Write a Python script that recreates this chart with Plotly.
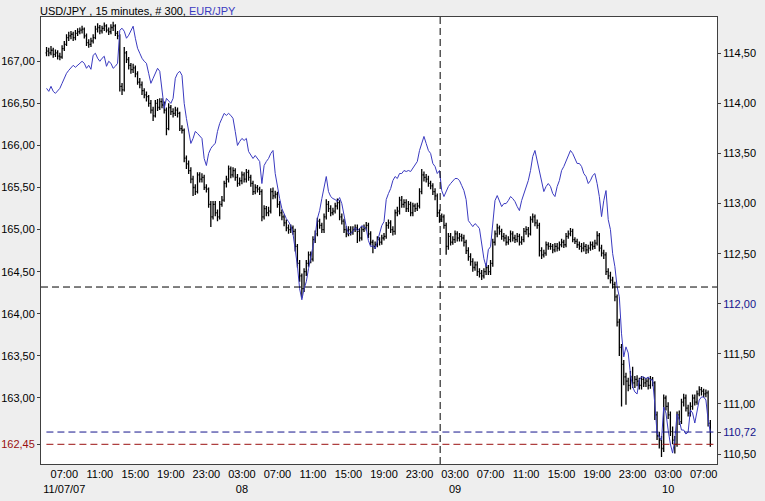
import plotly.graph_objects as go

# ---------------- data ----------------
# 300 bars of 15 minutes, first bar 11/07/07 05:00 (bar index used as x)
bar_open = [
167.10,167.12,167.10,167.13,167.08,167.10,167.06,167.05,167.15,167.20,
167.28,167.30,167.32,167.28,167.33,167.35,167.37,167.38,167.30,167.22,
167.20,167.24,167.28,167.38,167.40,167.36,167.39,167.42,167.37,167.35,
167.40,167.42,167.33,167.30,166.70,166.66,167.10,167.02,166.95,166.90,
166.92,166.85,166.75,166.72,166.65,166.60,166.58,166.50,166.42,166.35,
166.50,166.45,166.52,166.48,166.42,166.20,166.45,166.40,166.38,166.42,
166.38,166.20,166.18,165.85,165.78,165.70,165.60,165.50,165.45,165.65,
165.60,165.62,165.50,165.48,165.30,165.15,165.30,165.20,165.15,165.30,
165.35,165.55,165.60,165.72,165.65,165.70,165.62,165.55,165.58,165.65,
165.60,165.68,165.62,165.55,165.45,165.50,165.48,165.45,165.15,165.25,
165.20,165.22,165.45,165.40,165.42,165.30,165.20,165.15,165.08,165.02,
165.00,165.02,164.98,164.80,164.60,164.45,164.30,164.50,164.60,164.70,
164.65,164.88,164.95,165.10,165.05,165.00,165.15,165.30,165.25,165.20,
165.22,165.28,165.32,165.15,165.10,165.00,164.95,165.00,164.97,165.00,
165.02,164.98,164.90,165.00,165.02,165.05,164.95,164.85,164.80,164.82,
164.88,164.85,164.90,164.92,165.05,165.08,165.00,164.98,165.20,165.22,
165.35,165.30,165.32,165.25,165.30,165.20,165.28,165.25,165.28,165.45,
165.65,165.62,165.60,165.55,165.52,165.45,165.40,165.20,165.12,165.15,
165.05,164.80,164.92,164.85,164.88,164.95,164.90,164.92,164.90,164.85,
164.75,164.68,164.62,164.55,164.58,164.50,164.48,164.45,164.50,164.55,
164.50,164.60,164.85,164.95,165.02,164.98,164.92,164.90,164.85,164.88,
164.95,164.90,164.88,164.92,164.85,164.88,164.98,165.00,164.95,165.12,
165.15,165.08,165.05,164.75,164.70,164.72,164.82,164.80,164.80,164.76,
164.80,164.78,164.82,164.85,164.82,164.92,164.95,164.98,164.88,164.86,
164.82,164.80,164.78,164.80,164.76,164.78,164.82,164.80,164.84,164.93,
164.78,164.72,164.70,164.50,164.45,164.40,164.35,164.20,163.90,163.60,
163.40,163.25,163.20,163.15,163.25,163.18,163.22,163.20,163.15,163.22,
163.18,163.20,163.15,163.22,163.18,162.80,162.55,162.50,162.40,163.00,
162.90,162.80,162.60,162.50,162.45,162.80,162.72,162.95,163.00,162.88,
162.82,162.90,163.00,162.95,163.05,163.10,163.08,163.05,163.06,162.70,
]
bar_high = [
167.17,167.16,167.18,167.16,167.14,167.13,167.10,167.19,167.24,167.32,
167.35,167.36,167.35,167.37,167.39,167.40,167.42,167.40,167.33,167.26,
167.28,167.32,167.42,167.45,167.43,167.42,167.46,167.44,167.40,167.44,
167.47,167.44,167.36,167.32,166.74,167.17,167.12,167.05,166.98,166.97,
166.95,166.88,166.80,166.76,166.68,166.64,166.60,166.54,166.46,166.54,
166.55,166.56,166.56,166.52,166.45,166.50,166.48,166.44,166.46,166.45,
166.40,166.24,166.20,165.88,165.82,165.74,165.64,165.54,165.68,165.68,
165.67,165.65,165.54,165.50,165.34,165.34,165.34,165.24,165.34,165.40,
165.58,165.64,165.76,165.75,165.74,165.73,165.66,165.62,165.69,165.68,
165.72,165.71,165.65,165.58,165.54,165.53,165.51,165.48,165.29,165.28,
165.27,165.49,165.50,165.46,165.45,165.34,165.24,165.18,165.12,165.06,
165.06,165.05,165.01,164.83,164.64,164.48,164.54,164.64,164.74,164.74,
164.92,164.99,165.14,165.13,165.08,165.19,165.36,165.34,165.29,165.26,
165.32,165.37,165.35,165.19,165.13,165.04,165.04,165.04,165.04,165.06,
165.06,165.02,165.04,165.06,165.09,165.08,164.98,164.88,164.86,164.92,
164.91,164.94,164.96,165.09,165.12,165.11,165.04,165.24,165.27,165.39,
165.40,165.36,165.36,165.34,165.33,165.32,165.31,165.32,165.49,165.72,
165.69,165.66,165.64,165.58,165.55,165.49,165.43,165.24,165.19,165.18,
165.08,164.96,164.96,164.92,164.99,164.98,164.96,164.95,164.94,164.88,
164.79,164.72,164.66,164.62,164.62,164.54,164.52,164.54,164.60,164.58,
164.64,164.89,164.99,165.07,165.05,165.01,164.96,164.94,164.92,164.99,
164.98,164.94,164.96,164.95,164.92,165.02,165.04,165.03,165.16,165.19,
165.18,165.12,165.08,164.79,164.76,164.86,164.85,164.84,164.83,164.84,
164.84,164.86,164.89,164.88,164.96,164.99,165.02,165.01,164.91,164.89,
164.86,164.84,164.85,164.83,164.82,164.86,164.86,164.88,164.98,164.96,
164.82,164.76,164.73,164.54,164.50,164.44,164.38,164.23,163.94,163.64,
163.45,163.30,163.24,163.32,163.37,163.26,163.27,163.24,163.26,163.25,
163.24,163.24,163.26,163.25,163.20,162.84,162.60,162.55,163.04,163.03,
162.95,162.84,162.66,162.55,162.84,162.85,162.99,163.05,163.04,162.92,
162.95,163.04,163.04,163.09,163.14,163.13,163.11,163.10,163.09,162.74,
]
bar_low = [
167.06,167.06,167.07,167.04,167.05,167.02,167.01,167.03,167.12,167.18,
167.24,167.26,167.24,167.25,167.30,167.32,167.33,167.27,167.18,167.16,
167.17,167.21,167.26,167.34,167.32,167.33,167.36,167.34,167.31,167.32,
167.36,167.30,167.26,166.64,166.60,166.64,166.98,166.90,166.85,166.86,
166.81,166.72,166.68,166.60,166.56,166.52,166.46,166.38,166.29,166.33,
166.41,166.42,166.44,166.38,166.12,166.18,166.36,166.33,166.35,166.33,
166.17,166.14,165.80,165.72,165.66,165.55,165.40,165.41,165.43,165.56,
165.56,165.47,165.44,165.26,165.03,165.12,165.16,165.10,165.12,165.27,
165.33,165.50,165.56,165.61,165.62,165.58,165.51,165.52,165.54,165.56,
165.56,165.58,165.51,165.41,165.42,165.44,165.41,165.10,165.12,165.16,
165.16,165.19,165.36,165.37,165.26,165.16,165.11,165.04,164.98,164.95,
164.96,164.94,164.74,164.55,164.38,164.19,164.26,164.45,164.56,164.60,
164.62,164.84,164.92,165.01,164.96,164.96,165.12,165.21,165.16,165.17,
165.19,165.24,165.11,165.06,164.96,164.91,164.92,164.93,164.94,164.97,
164.84,164.86,164.87,164.97,164.99,164.90,164.81,164.72,164.77,164.79,
164.81,164.82,164.87,164.89,165.01,164.96,164.93,164.94,165.16,165.18,
165.26,165.26,165.21,165.21,165.16,165.16,165.21,165.22,165.25,165.42,
165.57,165.56,165.51,165.48,165.41,165.35,165.15,165.08,165.09,165.01,
164.70,164.76,164.81,164.82,164.84,164.86,164.86,164.86,164.80,164.71,
164.63,164.57,164.50,164.51,164.45,164.43,164.40,164.42,164.46,164.46,
164.46,164.56,164.81,164.91,164.94,164.88,164.86,164.81,164.82,164.85,
164.86,164.84,164.85,164.81,164.82,164.85,164.94,164.91,164.93,165.08,
165.04,165.01,164.68,164.65,164.67,164.69,164.76,164.76,164.72,164.73,
164.74,164.75,164.79,164.78,164.79,164.89,164.92,164.85,164.83,164.78,
164.76,164.73,164.74,164.71,164.72,164.75,164.76,164.77,164.81,164.74,
164.68,164.65,164.46,164.41,164.36,164.30,164.15,163.85,163.50,162.90,
163.15,162.92,163.08,163.10,163.12,163.12,163.14,163.10,163.10,163.13,
163.13,163.10,163.11,163.14,162.74,162.50,162.40,162.30,162.36,162.85,
162.75,162.55,162.45,162.34,162.42,162.68,162.69,162.90,162.84,162.78,
162.78,162.86,162.91,162.92,163.02,163.03,163.01,163.01,162.66,162.42,
]
bar_close = [
167.12,167.10,167.13,167.08,167.10,167.06,167.05,167.15,167.20,167.28,
167.30,167.32,167.28,167.33,167.35,167.37,167.38,167.30,167.22,167.20,
167.24,167.28,167.38,167.40,167.36,167.39,167.42,167.37,167.35,167.40,
167.42,167.33,167.30,166.70,166.66,167.10,167.02,166.95,166.90,166.92,
166.85,166.75,166.72,166.65,166.60,166.58,166.50,166.42,166.35,166.50,
166.45,166.52,166.48,166.42,166.20,166.45,166.40,166.38,166.42,166.38,
166.20,166.18,165.85,165.78,165.70,165.60,165.50,165.45,165.65,165.60,
165.62,165.50,165.48,165.30,165.15,165.30,165.20,165.15,165.30,165.35,
165.55,165.60,165.72,165.65,165.70,165.62,165.55,165.58,165.65,165.60,
165.68,165.62,165.55,165.45,165.50,165.48,165.45,165.15,165.25,165.20,
165.22,165.45,165.40,165.42,165.30,165.20,165.15,165.08,165.02,165.00,
165.02,164.98,164.80,164.60,164.45,164.30,164.50,164.60,164.70,164.65,
164.88,164.95,165.10,165.05,165.00,165.15,165.30,165.25,165.20,165.22,
165.28,165.32,165.15,165.10,165.00,164.95,165.00,164.97,165.00,165.02,
164.98,164.90,165.00,165.02,165.05,164.95,164.85,164.80,164.82,164.88,
164.85,164.90,164.92,165.05,165.08,165.00,164.98,165.20,165.22,165.35,
165.30,165.32,165.25,165.30,165.20,165.28,165.25,165.28,165.45,165.65,
165.62,165.60,165.55,165.52,165.45,165.40,165.20,165.12,165.15,165.05,
164.80,164.92,164.85,164.88,164.95,164.90,164.92,164.90,164.85,164.75,
164.68,164.62,164.55,164.58,164.50,164.48,164.45,164.50,164.55,164.50,
164.60,164.85,164.95,165.02,164.98,164.92,164.90,164.85,164.88,164.95,
164.90,164.88,164.92,164.85,164.88,164.98,165.00,164.95,165.12,165.15,
165.08,165.05,164.75,164.70,164.72,164.82,164.80,164.80,164.76,164.80,
164.78,164.82,164.85,164.82,164.92,164.95,164.98,164.88,164.86,164.82,
164.80,164.78,164.80,164.76,164.78,164.82,164.80,164.84,164.93,164.78,
164.72,164.70,164.50,164.45,164.40,164.35,164.20,163.90,163.60,163.40,
163.25,163.20,163.15,163.25,163.18,163.22,163.20,163.15,163.22,163.18,
163.20,163.15,163.22,163.18,162.80,162.55,162.50,162.40,163.00,162.90,
162.80,162.60,162.50,162.45,162.80,162.72,162.95,163.00,162.88,162.82,
162.90,163.00,162.95,163.05,163.10,163.08,163.05,163.06,162.70,162.45,
]
line_close = [
114.15,114.12,114.17,114.12,114.10,114.13,114.15,114.20,114.25,114.30,
114.33,114.36,114.38,114.36,114.38,114.40,114.42,114.40,114.35,114.38,
114.34,114.48,114.50,114.45,114.42,114.45,114.47,114.37,114.42,114.40,
114.35,114.37,114.40,114.73,114.75,114.72,114.65,114.68,114.72,114.77,
114.65,114.55,114.50,114.45,114.42,114.40,114.30,114.20,114.25,114.30,
114.35,114.32,114.10,113.95,114.05,114.02,114.00,114.05,114.25,114.30,
114.32,114.28,114.00,113.85,113.72,113.60,113.65,113.72,113.70,113.68,
113.65,113.45,113.38,113.50,113.55,113.58,113.60,113.72,113.80,113.85,
113.90,113.88,113.90,113.88,113.85,113.72,113.58,113.62,113.65,113.63,
113.65,113.52,113.48,113.45,113.48,113.45,113.42,113.20,113.38,113.42,
113.45,113.50,113.53,113.30,113.15,113.05,112.95,112.90,112.85,112.82,
112.78,112.70,112.55,112.38,112.15,112.04,112.15,112.22,112.35,112.45,
112.55,112.68,112.85,112.93,113.05,113.17,113.27,113.12,113.07,113.05,
113.04,113.02,113.06,113.00,112.88,112.77,112.70,112.70,112.72,112.76,
112.73,112.75,112.78,112.76,112.75,112.63,112.57,112.58,112.55,112.62,
112.70,112.78,112.82,113.04,113.10,113.15,113.23,113.27,113.25,113.30,
113.30,113.33,113.32,113.33,113.32,113.35,113.38,113.42,113.53,113.60,
113.67,113.60,113.53,113.50,113.40,113.37,113.30,113.33,113.13,113.07,
113.13,113.17,113.20,113.23,113.25,113.25,113.23,113.18,113.13,113.04,
112.83,112.80,112.77,112.80,112.78,112.75,112.57,112.45,112.37,112.54,
112.57,112.80,113.03,113.08,113.03,112.97,113.00,113.00,113.03,113.07,
113.05,113.02,112.97,112.93,113.03,113.10,113.17,113.23,113.33,113.47,
113.53,113.43,113.33,113.20,113.12,113.17,113.20,113.17,113.10,113.07,
113.17,113.23,113.33,113.37,113.43,113.48,113.53,113.50,113.45,113.40,
113.40,113.37,113.30,113.27,113.20,113.23,113.28,113.30,113.20,113.07,
112.87,113.03,113.13,112.84,112.74,112.50,112.37,112.17,112.07,111.70,
111.47,111.57,111.51,111.30,111.17,111.12,111.10,111.24,111.27,111.27,
111.25,111.27,111.24,111.24,111.00,110.71,110.67,110.64,110.97,110.91,
110.74,110.60,110.51,110.64,110.90,110.84,110.74,110.74,110.70,110.72,
110.94,110.91,110.81,110.94,111.04,111.07,111.07,111.04,110.84,110.72,
]

x_tick_index = [8, 24, 40, 56, 72, 88, 104, 120, 136, 152, 168, 184, 200, 216, 232, 248, 264, 280, 296]
x_tick_time = ["07:00", "11:00", "15:00", "19:00", "23:00", "03:00", "07:00", "11:00", "15:00",
               "19:00", "23:00", "03:00", "07:00", "11:00", "15:00", "19:00", "23:00", "03:00", "07:00"]
x_tick_date = ["11/07/07", "", "", "", "", "08", "", "", "", "", "", "09", "", "", "", "", "", "10", ""]

left_ticks = [163.0, 163.5, 164.0, 164.5, 165.0, 165.5, 166.0, 166.5, 167.0]
right_ticks = [110.5, 111.0, 111.5, 112.0, 112.5, 113.0, 113.5, 114.0, 114.5]

last_left = 162.45      # last close of bars (left scale)
last_right = 110.72     # last value of line (right scale)
cross_x = 177.3         # crosshair bar position
cross_y = 164.318       # crosshair price (left scale)

# ---------------- figure ----------------
BLUE = "#3a3ac0"
NAVY = "#14148c"
RED = "#9a1010"
AXC = "#404040"
FONT = "Liberation Sans"

idx = list(range(len(bar_close)))

def fmt(v):
    return f"{v:.2f}".replace(".", ",")

fig = go.Figure()
fig.add_trace(go.Ohlc(
    x=idx, open=bar_open, high=bar_high, low=bar_low, close=bar_close,
    increasing=dict(line=dict(color="black", width=1.3)),
    decreasing=dict(line=dict(color="black", width=1.3)),
    tickwidth=0.45, yaxis="y", hoverinfo="skip", showlegend=False,
))
fig.add_trace(go.Scatter(
    x=idx, y=line_close, mode="lines", line=dict(color=BLUE, width=1),
    yaxis="y2", hoverinfo="skip", showlegend=False,
))

lt_vals = left_ticks + [last_left]
lt_text = [fmt(v) for v in left_ticks] + [f"<span style='color:{RED}'>{fmt(last_left)}</span>"]
rt_vals = right_ticks + [last_right]
rt_text = []
for v in right_ticks:
    if abs(v - 112.0) < 1e-9:
        rt_text.append(f"<span style='color:{NAVY}'>{fmt(v)}</span>")
    else:
        rt_text.append(fmt(v))
rt_text.append(f"<span style='color:{NAVY}'>{fmt(last_right)}</span>")

x_text = [t + "<br>" + d if d else t for t, d in zip(x_tick_time, x_tick_date)]

fig.update_layout(
    width=765, height=501,
    margin=dict(l=41, r=48, t=17, b=37, autoexpand=False),
    paper_bgcolor="#eeeeee", plot_bgcolor="white",
    font=dict(family=FONT, size=11, color="black"),
    showlegend=False,
    xaxis=dict(
        range=[-2.5, 302], tickmode="array", tickvals=x_tick_index, ticktext=x_text,
        showgrid=False, zeroline=False, showline=True, linecolor=AXC, linewidth=1,
        mirror=True, ticks="", rangeslider=dict(visible=False), tickfont=dict(size=11),
        tickangle=0, automargin=False,
    ),
    yaxis=dict(
        range=[162.216, 167.525], tickmode="array", tickvals=lt_vals, ticktext=lt_text,
        showgrid=False, zeroline=False, showline=True, linecolor=AXC, linewidth=1,
        ticks="outside", ticklen=3, tickcolor=AXC, side="left", automargin=False,
    ),
    yaxis2=dict(
        range=[110.401, 114.862], tickmode="array", tickvals=rt_vals, ticktext=rt_text,
        showgrid=False, zeroline=False, showline=True, linecolor=AXC, linewidth=1,
        ticks="outside", ticklen=3, tickcolor=AXC, side="right", overlaying="y",
        automargin=False,
    ),
    shapes=[
        dict(type="line", xref="x", yref="paper", x0=cross_x, x1=cross_x, y0=0, y1=1,
             line=dict(color="black", width=1, dash="7px,4px")),
        dict(type="line", xref="paper", yref="y", x0=0, x1=1, y0=cross_y, y1=cross_y,
             line=dict(color="black", width=1, dash="7px,4px")),
        dict(type="line", xref="paper", yref="y2", x0=0.008, x1=1, y0=last_right, y1=last_right,
             line=dict(color=NAVY, width=1, dash="7px,4px")),
        dict(type="line", xref="paper", yref="y", x0=0.008, x1=1, y0=last_left, y1=last_left,
             line=dict(color=RED, width=1, dash="7px,4px")),
    ],
    annotations=[
        dict(xref="paper", yref="paper", x=0, y=1, xanchor="left", yanchor="bottom",
             xshift=-3, yshift=-2, showarrow=False, align="left",
             text=f"USD/JPY , 15 minutes, # 300, <span style='color:{BLUE}'>EUR/JPY</span>",
             font=dict(family=FONT, size=11, color="black")),
    ],
)

fig.write_html(
    "out.html",
    config={"displayModeBar": False},
    post_script="document.body.style.margin='0';document.body.style.overflow='hidden';",
)
